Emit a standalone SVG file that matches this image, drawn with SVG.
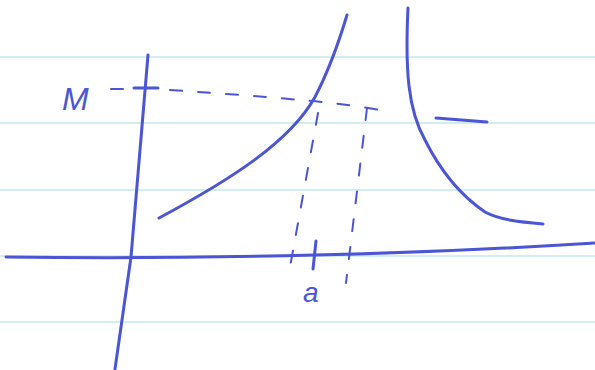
<svg xmlns="http://www.w3.org/2000/svg" width="595" height="370" viewBox="0 0 595 370">
<style>
.rule{stroke:#c4e8ef;stroke-width:1.5;fill:none}
.ink{stroke:#4b55d6;stroke-width:3;fill:none;stroke-linecap:round;stroke-linejoin:round}
.dash{stroke:#4b55d6;stroke-width:2;fill:none;stroke-linecap:round;stroke-dasharray:12 16}
.lbl{font-family:"Liberation Sans",sans-serif;font-style:italic;fill:#4b55d6}
</style>
<rect width="595" height="370" fill="#ffffff"/>
<g id="paper">
<line class="rule" x1="0" y1="57" x2="595" y2="57"/>
<line class="rule" x1="0" y1="123" x2="595" y2="123"/>
<line class="rule" x1="0" y1="190" x2="595" y2="190"/>
<line class="rule" x1="0" y1="256" x2="595" y2="256"/>
<line class="rule" x1="0" y1="322" x2="595" y2="322"/>
</g>
<g id="axes">
<path class="ink" d="M148 55 L131 257 L115 369"/>
<path class="ink" d="M6 257 Q160 259 315 255 Q450 252 595 243"/>
<line class="ink" x1="134" y1="88" x2="158" y2="88"/>
<line class="ink" x1="316" y1="241" x2="313" y2="269"/>
</g>
<g id="curves">
<path class="ink" d="M159 218 C230 180 290 142 315 97 C327 74 338 45 347 15"/>
<path class="ink" d="M408 8 C405 70 408 110 425 140 C440 170 460 195 485 212 C500 220 520 222 543 224"/>
<line class="ink" stroke-width="2" x1="436" y1="118" x2="487" y2="122"/>
</g>
<g id="guides">
<path class="dash" stroke-dasharray="10 20" d="M111 89 L123 89"/>
<path class="dash" stroke-dasharray="18 22" d="M170 90 Q260 96 300 100 Q340 103 380 110"/>
<path class="dash" stroke-dasharray="16 18" d="M318 113 L290 267"/>
<path class="dash" stroke-dasharray="16 18" d="M367 108 L346 283"/>
</g>
<g id="labels">
<text class="lbl" x="62" y="110" font-size="32">M</text>
<text class="lbl" x="303" y="302" font-size="28">a</text>
</g>
</svg>
